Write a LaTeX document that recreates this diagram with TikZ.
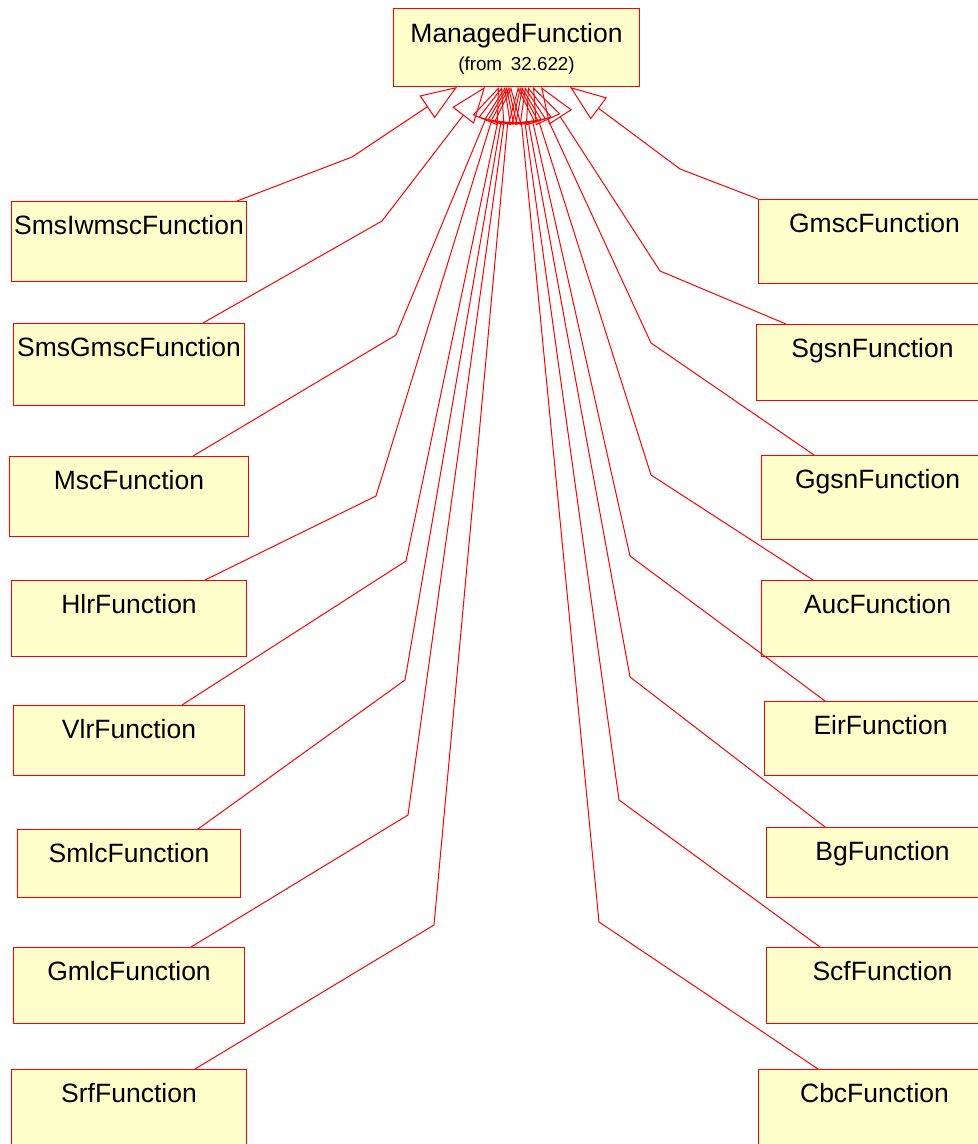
\documentclass[tikz,border=0pt]{standalone}
\usepackage{fontspec}
\setmainfont{Liberation Sans}
\usetikzlibrary{arrows.meta,calc}
\definecolor{fnyellow}{RGB}{255,255,204}

\begin{document}
\begin{tikzpicture}[x=0.5pt,y=-0.5pt,
        fn/.style={draw=red, fill=fnyellow, line width=0.5pt, inner sep=0pt, anchor=north west,
                font=\fontsize{13.25}{13}\selectfont, text height=16.5pt},
        gen/.style={draw=red, line width=0.5pt, -{Triangle[open,length=18pt,width=13.5pt]}}]
                \useasboundingbox (0,0) rectangle (978,1144);
                \node[fn, text width=123pt, align=center, text height=17pt, text depth=22pt,
                        font=\fontsize{13.25}{14}\selectfont] (mf) at (393,8)
                        {ManagedFunction\\{\fontsize{9.4}{14}\selectfont(from 32.622)}};
                \node[fn, minimum width=117.5pt, text depth=23.5pt] (smsiwmsc) at (11,201) {SmsIwmscFunction};
                \node[fn, minimum width=115.5pt, text depth=24.5pt] (smsgmsc) at (13,323) {SmsGmscFunction};
                \node[fn, minimum width=119.5pt, text depth=23.5pt] (msc) at (9,456) {MscFunction};
                \node[fn, minimum width=117.5pt, text depth=21.5pt] (hlr) at (11,580) {HlrFunction};
                \node[fn, minimum width=115.5pt, text depth=18.5pt] (vlr) at (13,705) {VlrFunction};
                \node[fn, minimum width=111.5pt, text depth=17.5pt] (smlc) at (17,829) {SmlcFunction};
                \node[fn, minimum width=115.5pt, text depth=21.5pt] (gmlc) at (13,947) {GmlcFunction};
                \node[fn, minimum width=117.5pt, text depth=24pt] (srf) at (11,1069) {SrfFunction};
                \node[fn, minimum width=116pt, text depth=25.5pt] (gmsc) at (758,199) {GmscFunction};
                \node[fn, minimum width=116pt, text depth=21.5pt] (sgsn) at (756,324) {SgsnFunction};
                \node[fn, minimum width=116pt, text depth=25.5pt] (ggsn) at (761,455) {GgsnFunction};
                \node[fn, minimum width=116pt, text depth=21.5pt] (auc) at (761,580) {AucFunction};
                \node[fn, minimum width=116pt, text depth=20.5pt] (eir) at (764,701) {EirFunction};
                \node[fn, minimum width=116pt, text depth=18.5pt] (bg) at (766,827) {BgFunction};
                \node[fn, minimum width=116pt, text depth=21.5pt] (scf) at (766,947) {ScfFunction};
                \node[fn, minimum width=116pt, text depth=24pt] (cbc) at (758,1069) {CbcFunction};
                \draw[gen] ($(smsiwmsc.north west)+(226,0)$) -- (352,157) -- ($(mf.south west)+(64,0)$);
                \draw[gen] ($(smsgmsc.north west)+(190,0)$) -- (382,221) -- ($(mf.south west)+(92,0)$);
                \draw[gen] ($(msc.north west)+(184,0)$) -- (396,335) -- ($(mf.south west)+(106,0)$);
                \draw[gen] ($(hlr.north west)+(194,0)$) -- (376,496) -- ($(mf.south west)+(109,0)$);
                \draw[gen] ($(vlr.north west)+(169,0)$) -- (406,561) -- ($(mf.south west)+(112,0)$);
                \draw[gen] ($(smlc.north west)+(181,0)$) -- (405,680) -- ($(mf.south west)+(114,0)$);
                \draw[gen] ($(gmlc.north west)+(178,0)$) -- (408,815) -- ($(mf.south west)+(116,0)$);
                \draw[gen] ($(srf.north west)+(184,0)$) -- (434,925) -- ($(mf.south west)+(118,0)$);
                \draw[gen] (gmsc.north west) -- (680,169) -- ($(mf.south west)+(177,0)$);
                \draw[gen] ($(sgsn.north west)+(30,0)$) -- (660,271) -- ($(mf.south west)+(148,0)$);
                \draw[gen] ($(ggsn.north west)+(53,0)$) -- (651,343) -- ($(mf.south west)+(140,0)$);
                \draw[gen] ($(auc.north west)+(52,0)$) -- (651,475) -- ($(mf.south west)+(135,0)$);
                \draw[gen] ($(eir.north west)+(61,0)$) -- (630,556) -- ($(mf.south west)+(132,0)$);
                \draw[gen] ($(bg.north west)+(59,0)$) -- (630,677) -- ($(mf.south west)+(129,0)$);
                \draw[gen] ($(scf.north west)+(54,0)$) -- (619,800) -- ($(mf.south west)+(127,0)$);
                \draw[gen] ($(cbc.north west)+(60,0)$) -- (599,922) -- ($(mf.south west)+(125,0)$);
        \end{tikzpicture}
\end{document}
